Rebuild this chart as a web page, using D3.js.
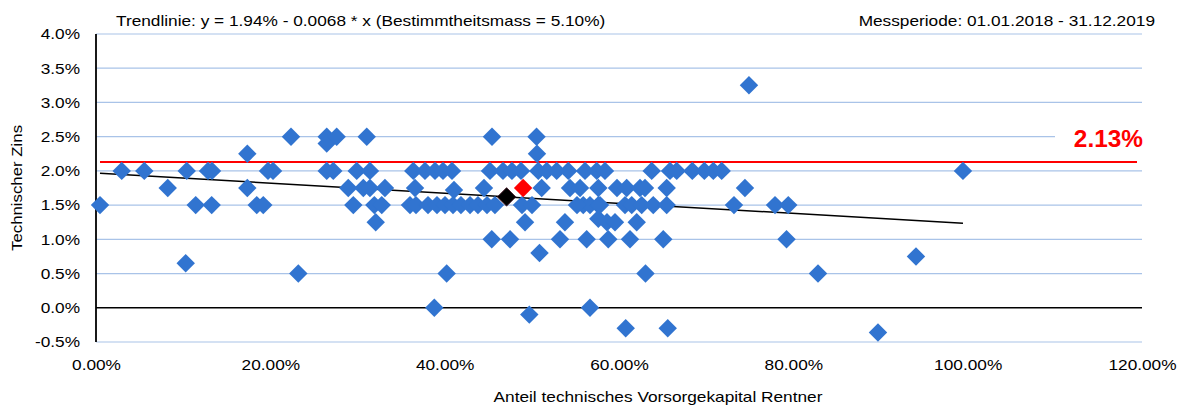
<!DOCTYPE html>
<html>
<head>
<meta charset="utf-8">
<script src="https://cdn.jsdelivr.net/npm/d3@7"></script>
<style>
  html, body { margin: 0; padding: 0; background: #fff; }
  svg { display: block; font-family: "Liberation Sans", Arial, sans-serif; }
</style>
</head>
<body>
<svg id="chart" width="1185" height="411"></svg>
<script>
// Anteil technisches Vorsorgekapital Rentner (%) / technischer Zins (%)
const xVals = [
  0.46, 2.95, 5.54, 8.23, 10.41, 10.29, 11.44, 12.85, 13.31, 13.27,
  17.36, 17.36, 18.44, 19.19, 19.73, 20.31, 22.37, 23.21, 26.47, 26.47,
  27.61, 31.06, 26.47, 27.22, 28.94, 29.91, 30.67, 31.43, 31.43, 33.15,
  29.52, 31.93, 32.78, 32.09, 36.4, 37.74, 38.89, 39.81, 40.84, 36.6,
  36.02, 36.71, 38.09, 39.12, 40.04, 40.96, 41.87, 42.91, 43.82, 44.86,
  45.77, 41.07, 40.23, 38.81, 45.43, 50.54, 50.59, 45.2, 46.69, 47.72,
  48.76, 50.74, 51.71, 52.85, 54.18, 56.1, 57.44, 58.39, 44.51, 51.13,
  54.38, 55.53, 57.63, 59.77, 48.87, 50.02, 55.9, 56.67, 57.63, 49.22,
  53.8, 57.63, 58.62, 45.4, 47.5, 53.23, 56.29, 58.77, 50.88, 49.71,
  56.67, 60.77, 65.59, 63.75, 65.85, 66.62, 68.41, 69.79, 70.82, 71.78,
  60.88, 62.41, 62.98, 65.47, 74.45, 60.69, 61.46, 62.6, 63.93, 65.47,
  73.19, 77.9, 79.42, 62.03, 61.26, 65.08, 79.22, 63.04, 74.91, 82.83,
  94.07, 89.71, 99.46, 57.82, 55.18, 59.54
];
const yVals = [
  1.5, 2.0, 2.0, 1.75, 2.0, 0.65, 1.5, 2.0, 2.0, 1.5,
  2.25, 1.75, 1.5, 1.5, 2.0, 2.0, 2.5, 0.5, 2.5, 2.4,
  2.5, 2.5, 2.0, 2.0, 1.75, 2.0, 1.75, 2.0, 1.75, 1.75,
  1.5, 1.5, 1.5, 1.25, 2.0, 2.0, 2.0, 2.0, 2.0, 1.75,
  1.5, 1.5, 1.5, 1.5, 1.5, 1.5, 1.5, 1.5, 1.5, 1.5,
  1.5, 1.72, 0.5, 0.0, 2.5, 2.5, 2.25, 2.0, 2.0, 2.0,
  2.0, 2.0, 2.0, 2.0, 2.0, 2.0, 2.0, 2.0, 1.75, 1.75,
  1.75, 1.75, 1.75, 1.75, 1.5, 1.5, 1.5, 1.5, 1.5, 1.25,
  1.25, 1.3, 1.25, 1.0, 1.0, 1.0, 1.0, 1.0, 0.8, -0.1,
  0.0, -0.3, -0.3, 2.0, 2.0, 2.0, 2.0, 2.0, 2.0, 2.0,
  1.75, 1.75, 1.75, 1.75, 1.75, 1.5, 1.5, 1.5, 1.5, 1.5,
  1.5, 1.5, 1.5, 1.25, 1.0, 1.0, 1.0, 0.5, 3.25, 0.5,
  0.75, -0.36, 2.0, 1.5, 1.5, 1.25
];

const meanPoint = [47.1, 1.62];      // Schwerpunkt (schwarz)
const ownPoint = [49.0, 1.75];       // eigene Kasse (rot)
const refRate = 2.13;                // Referenzzins
const trendX = [0.46, 99.46];
const trendY = [1.965, 1.235];

const xTicks = [0, 20, 40, 60, 80, 100, 120];
const yTicks = [-0.5, 0, 0.5, 1.0, 1.5, 2.0, 2.5, 3.0, 3.5, 4.0];

const titleText = 'Trendlinie: y = 1.94% - 0.0068 * x (Bestimmtheitsmass = 5.10%)';
const periodText = 'Messperiode: 01.01.2018 - 31.12.2019';
const xTitle = 'Anteil technisches Vorsorgekapital Rentner';
const yTitle = 'Technischer Zins';

const svg = d3.select('#chart');
const plotL = 96, plotR = 1142, plotT = 34, plotB = 342;

// the source font runs a bit wider than Arial
function stretch(sel, k = 1.15) {
  sel.each(function () {
    const w = this.getComputedTextLength();
    d3.select(this).attr('textLength', w * k).attr('lengthAdjust', 'spacingAndGlyphs');
  });
}

const x = d3.scaleLinear().domain([0, 120]).range([plotL, plotR]);
const y = d3.scaleLinear().domain([-0.5, 4]).range([plotB, plotT]);

// grid
svg.append('g')
  .selectAll('line')
  .data(yTicks.filter(d => d !== 0))
  .join('line')
  .attr('x1', plotL).attr('x2', plotR)
  .attr('y1', d => y(d)).attr('y2', d => y(d))
  .attr('stroke', '#a9c3e8')
  .attr('stroke-width', 1.2);

// zero line + y axis line
svg.append('line')
  .attr('x1', plotL).attr('x2', plotR)
  .attr('y1', y(0)).attr('y2', y(0))
  .attr('stroke', '#000').attr('stroke-width', 1.5);

svg.append('line')
  .attr('x1', plotL).attr('x2', plotL)
  .attr('y1', plotT).attr('y2', plotB)
  .attr('stroke', '#000').attr('stroke-width', 1.8);

// axes (labels only)
const yAxis = svg.append('g')
  .attr('transform', `translate(${plotL - 16},0)`)
  .call(d3.axisLeft(y).tickValues(yTicks).tickSize(0).tickFormat(d => d.toFixed(1) + '%'));
yAxis.select('.domain').remove();
yAxis.selectAll('text')
  .attr('x', 0)
  .attr('font-family', '"Liberation Sans", Arial, sans-serif')
  .attr('font-size', 15).attr('fill', '#000')
  .call(stretch);

const xAxis = svg.append('g')
  .attr('transform', `translate(0,${plotB + 17})`)
  .call(d3.axisBottom(x).tickValues(xTicks).tickSize(0).tickFormat(d => d.toFixed(2) + '%'));
xAxis.select('.domain').remove();
xAxis.selectAll('text')
  .attr('y', 0).attr('dy', '0.71em')
  .attr('font-family', '"Liberation Sans", Arial, sans-serif')
  .attr('font-size', 15).attr('fill', '#000')
  .call(stretch);

// reference rate line
svg.append('line')
  .attr('x1', x(0.46)).attr('x2', 1137)
  .attr('y1', y(refRate)).attr('y2', y(refRate))
  .attr('stroke', '#ff0000').attr('stroke-width', 2.2);

// trend line
svg.append('line')
  .attr('x1', x(trendX[0])).attr('y1', y(trendY[0]))
  .attr('x2', x(trendX[1])).attr('y2', y(trendY[1]))
  .attr('stroke', '#000').attr('stroke-width', 1.5);

// points
const diamond = d3.symbol().type(d3.symbolSquare).size(170);
const pts = d3.zip(xVals, yVals);

svg.append('g')
  .selectAll('path')
  .data(pts)
  .join('path')
  .attr('d', diamond)
  .attr('transform', d => `translate(${x(d[0])},${y(d[1])}) rotate(45)`)
  .attr('fill', '#3174d0');

svg.append('path')
  .attr('d', diamond)
  .attr('transform', `translate(${x(meanPoint[0])},${y(meanPoint[1])}) rotate(45)`)
  .attr('fill', '#000')
  .attr('stroke', '#3a0a1a').attr('stroke-width', 0.8);

svg.append('path')
  .attr('d', diamond)
  .attr('transform', `translate(${x(ownPoint[0])},${y(ownPoint[1])}) rotate(45)`)
  .attr('fill', '#ff0000');

// 2.13% label
svg.append('rect')
  .attr('x', 1055).attr('y', 128).attr('width', 90).attr('height', 22)
  .attr('fill', '#fff');
svg.append('text')
  .attr('x', 1143).attr('y', 147)
  .attr('text-anchor', 'end')
  .attr('font-size', 23).attr('font-weight', 'bold')
  .attr('fill', '#ff0000')
  .text(refRate.toFixed(2) + '%')
  .call(stretch, 1.06);

// texts
svg.append('text')
  .attr('x', 116).attr('y', 26)
  .attr('font-size', 15)
  .text(titleText)
  .call(stretch);

svg.append('text')
  .attr('x', 1155).attr('y', 26)
  .attr('text-anchor', 'end')
  .attr('font-size', 15)
  .text(periodText)
  .call(stretch);

svg.append('text')
  .attr('x', 658).attr('y', 402)
  .attr('text-anchor', 'middle')
  .attr('font-size', 15)
  .text(xTitle)
  .call(stretch);

svg.append('text')
  .attr('transform', `translate(22,${(plotT + plotB) / 2}) rotate(-90)`)
  .attr('text-anchor', 'middle')
  .attr('font-size', 15)
  .text(yTitle)
  .call(stretch, 1.12);
</script>
</body>
</html>
